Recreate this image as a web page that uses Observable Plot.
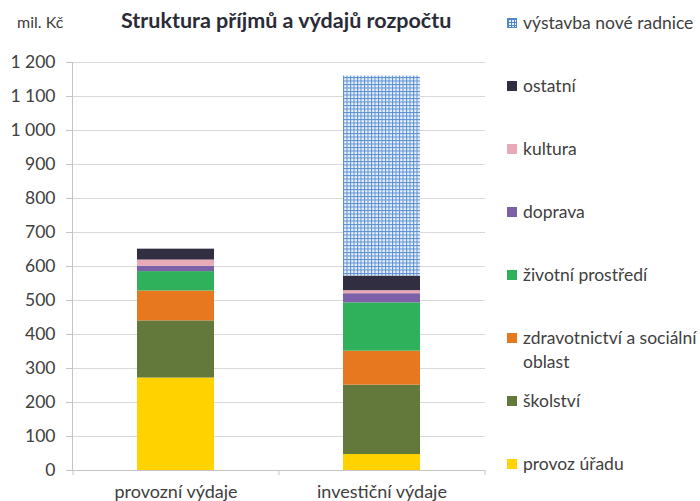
<!DOCTYPE html>
<html>
<head>
<meta charset="utf-8">
<script src="https://cdn.jsdelivr.net/npm/d3@7"></script>
<script src="https://cdn.jsdelivr.net/npm/@observablehq/plot@0.6"></script>
<style>
  html, body { margin: 0; padding: 0; background: #fff; overflow: hidden; }
  #wrap { position: relative; width: 700px; height: 501px; overflow: hidden; font-family: Lato, "Open Sans", sans-serif; color: #404040; }
  #wrap svg { position: absolute; left: 0; top: 0; }
  #title { position: absolute; left: 121px; top: 7px; font-size: 21.5px; font-weight: bold; color: #2b2b38; white-space: nowrap; }
  #unit { position: absolute; left: 17px; top: 12px; font-size: 16px; color: #404040; white-space: nowrap; }
  #legend { position: absolute; left: 507px; top: 11px; width: 240px; }
  .item { position: relative; height: 63px; padding-left: 16px; font-size: 17.5px; line-height: 24px; white-space: normal; }
  .sw { position: absolute; left: 0; top: 7px; width: 10px; height: 10px; box-sizing: border-box; }
</style>
</head>
<body>
<div id="wrap">
  <div id="unit"></div>
  <div id="title"></div>
  <div id="legend"></div>
</div>
<script>
const titleText = "Struktura příjmů a výdajů rozpočtu";
const unitText = "mil. Kč";
const categories = ["provozní výdaje", "investiční výdaje"];
const series = ["provoz úřadu", "školství", "zdravotnictví a sociální oblast", "životní prostředí", "doprava", "kultura", "ostatní", "výstavba nové radnice"];
const provozniValues = [272, 168, 88, 57, 16, 18, 32, 0];
const investicniValues = [47, 204, 100, 142, 27, 9, 43, 588];
const yTicks = [0, 100, 200, 300, 400, 500, 600, 700, 800, 900, 1000, 1100, 1200];
const seriesColors = ["#ffd200", "#63793b", "#e8781f", "#2fb15b", "#7d60a7", "#e8aab6", "#302e40", "url(#vystavba-grid)"];

const valuesByCategory = [provozniValues, investicniValues];
const rows = [];
categories.forEach((c, ci) => {
  series.forEach((s, si) => {
    const v = valuesByCategory[ci][si];
    if (v > 0) rows.push({cat: c, series: s, value: v});
  });
});

const W = 700, H = 501, mL = 72, mR = 215, mT = 62, mB = 31;
const pIn = 0.626, pOut = 0.315;
const step = (W - mL - mR) / (categories.length - pIn + 2 * pOut);
const fmt = d => d3.format(",")(d).replace(/,/g, " ");

const plot = Plot.plot({
  width: W, height: H,
  marginLeft: mL, marginRight: mR, marginTop: mT, marginBottom: mB,
  style: {fontFamily: "Lato, 'Open Sans', sans-serif", fontSize: "17.5px", background: "transparent", color: "#404040"},
  x: {domain: categories, paddingInner: pIn, paddingOuter: pOut, axis: null, label: null},
  y: {domain: [0, 1200], axis: null, label: null},
  color: {type: "ordinal", domain: series, range: seriesColors},
  marks: [
    Plot.gridY(yTicks, {stroke: "#d9d9d9", strokeOpacity: 1}),
    Plot.barY(rows, {x: "cat", y: "value", fill: "series"}),
    Plot.ruleY([0], {stroke: "#c4c4c4"}),
    Plot.frame({anchor: "left", stroke: "#c4c4c4"}),
    Plot.axisY(yTicks, {tickSize: 6, tickPadding: 11, tickFormat: fmt, stroke: "#c4c4c4", fill: "#404040", fontSize: 17.5, label: null}),
    Plot.axisX({tickSize: 0, tickPadding: 15, fill: "#404040", fontSize: 18, label: null}),
    Plot.axisX(categories, {tickSize: 5, tickFormat: () => "", dx: -step / 2, stroke: "#c4c4c4", label: null}),
    Plot.axisX([categories[categories.length - 1]], {tickSize: 5, tickFormat: () => "", dx: step / 2, stroke: "#c4c4c4", label: null})
  ]
});

// grid pattern for the "výstavba nové radnice" segment
const defs = d3.select(plot).insert("defs", ":first-child");
const pat = defs.append("pattern")
  .attr("id", "vystavba-grid")
  .attr("patternUnits", "userSpaceOnUse")
  .attr("width", 3.5).attr("height", 3.5);
pat.append("rect").attr("width", 3.5).attr("height", 3.5).attr("fill", "#e9f0fa");
pat.append("rect").attr("width", 3.5).attr("height", 1).attr("fill", "#5a8fd4");
pat.append("rect").attr("width", 1).attr("height", 3.5).attr("fill", "#5a8fd4");

document.getElementById("wrap").appendChild(plot);
document.getElementById("title").textContent = titleText;
document.getElementById("unit").textContent = unitText;

const legend = d3.select("#legend");
series.slice().reverse().forEach(s => {
  const i = series.indexOf(s);
  const item = legend.append("div").attr("class", "item");
  const sw = item.append("div").attr("class", "sw");
  if (seriesColors[i].startsWith("url")) {
    sw.style("background-color", "#e9f0fa")
      .style("background-image", "linear-gradient(#4f86cc 1px, transparent 1px), linear-gradient(90deg, #4f86cc 1px, transparent 1px)")
      .style("background-size", "3px 3px")
      .style("border", "1px solid #4f86cc");
  } else {
    sw.style("background", seriesColors[i]);
  }
  item.append("span").text(s);
});
</script>
</body>
</html>
